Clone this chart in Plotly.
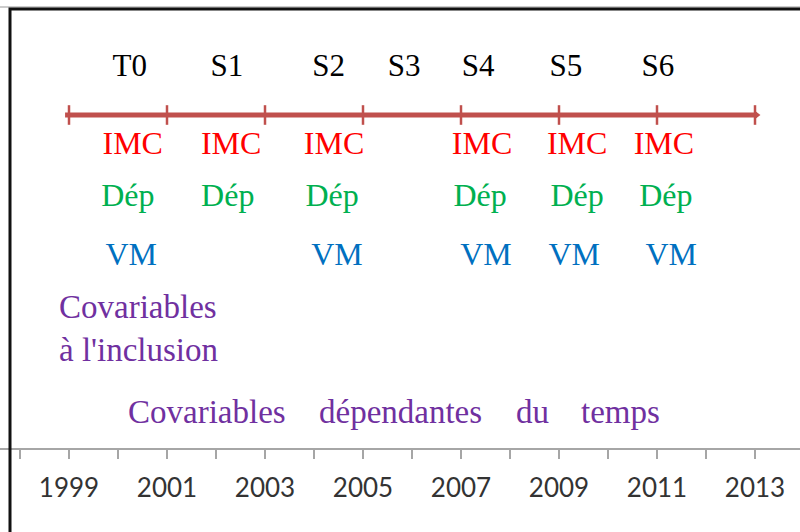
import plotly.graph_objects as go

# ---- data (years) ----
waves = ["T0", "S1", "S2", "S3", "S4", "S5", "S6"]
wave_years = [2000.24, 2002.22, 2004.30, 2005.84, 2007.35, 2009.14, 2011.02]

imc_years = [2000.30, 2002.31, 2004.41, 2007.43, 2009.37, 2011.14]
dep_years = [2000.20, 2002.24, 2004.37, 2007.39, 2009.37, 2011.18]
vm_years = [2000.27, 2004.47, 2007.51, 2009.31, 2011.29]

timeline_start, timeline_end = 1998.92, 2013.04
timeline_ticks = [1999, 2001, 2003, 2005, 2007, 2009, 2011, 2013]
axis_label_years = [1999, 2001, 2003, 2005, 2007, 2009, 2011, 2013]

# ---- layout constants (pixel rows, y axis is in pixels from top) ----
PLOT_H = 448
Y_WAVE, Y_LINE, Y_IMC, Y_DEP, Y_VM = 68, 115, 146, 198, 257
RED = "#C0504D"
SERIF = "Liberation Serif, Times New Roman, serif"

fig = go.Figure()

# timeline
fig.add_trace(go.Scatter(x=[timeline_start, timeline_end], y=[Y_LINE, Y_LINE], mode="lines",
                         line=dict(color=RED, width=5), hoverinfo="skip"))
fig.add_trace(go.Scatter(x=timeline_ticks, y=[Y_LINE] * len(timeline_ticks), mode="markers",
                         marker=dict(symbol="line-ns", size=14, line=dict(color=RED, width=2.5)),
                         hoverinfo="skip"))
fig.add_trace(go.Scatter(x=[timeline_end], y=[Y_LINE], mode="markers",
                         marker=dict(symbol="triangle-right", size=7, color=RED), hoverinfo="skip"))

# wave labels
fig.add_trace(go.Scatter(x=wave_years, y=[Y_WAVE] * len(waves), mode="text", text=waves,
                         textfont=dict(family=SERIF, size=31, color="black"), hoverinfo="skip"))
# rows
fig.add_trace(go.Scatter(x=imc_years, y=[Y_IMC] * len(imc_years), mode="text", text=["IMC"] * len(imc_years),
                         textfont=dict(family=SERIF, size=32, color="#FF0000"), hoverinfo="skip"))
fig.add_trace(go.Scatter(x=dep_years, y=[Y_DEP] * len(dep_years), mode="text", text=["Dép"] * len(dep_years),
                         textfont=dict(family=SERIF, size=32, color="#00B050"), hoverinfo="skip"))
fig.add_trace(go.Scatter(x=vm_years, y=[Y_VM] * len(vm_years), mode="text", text=["VM"] * len(vm_years),
                         textfont=dict(family=SERIF, size=32, color="#0070C0"), hoverinfo="skip"))

PURPLE = "#7030A0"
fig.add_annotation(x=1998.755, y=328, xref="x", yref="y", text="Covariables<br>à l'inclusion",
                   showarrow=False, xanchor="left", yanchor="middle", align="left",
                   font=dict(family=SERIF, size=33, color=PURPLE))
for word, cx in [("Covariables", 207), ("dépendantes", 400), ("du", 532), ("temps", 620)]:
    fig.add_annotation(x=1998 + (cx - 20) / 49, y=412, xref="x", yref="y", text=word,
                       showarrow=False, xanchor="center", yanchor="middle",
                       font=dict(family=SERIF, size=33, color=PURPLE))

# frame border (extends beyond right and bottom edges)
top = 1 - 9 / PLOT_H
fig.add_shape(type="line", xref="paper", yref="paper", x0=0, x1=1, y0=1 - 7 / PLOT_H, y1=1 - 7 / PLOT_H,
              line=dict(color="#BBBBBB", width=1.5))
fig.add_shape(type="path", xref="paper", yref="paper",
              path=f"M {10/800} {-0.2} L {10/800} {top} L 1.01 {top}",
              line=dict(color="#111111", width=3))

x0 = 1998 - 20 / 49
x1 = 1998 + 780 / 49
fig.update_xaxes(range=[x0, x1], showgrid=False, zeroline=False,
                 showline=True, linecolor="#A6A6A6", linewidth=2,
                 tickmode="array", tickvals=axis_label_years, ticktext=[str(y) for y in axis_label_years],
                 ticks="outside", ticklen=9, tickwidth=1.5, tickcolor="#A6A6A6",
                 ticklabelstandoff=7,
                 minor=dict(tick0=1998, dtick=1, ticks="outside", ticklen=9, tickwidth=1.5, tickcolor="#A6A6A6"),
                 tickfont=dict(family="Lato, Carlito, Liberation Sans, sans-serif", size=26, color="#333333"))
fig.update_yaxes(range=[PLOT_H, 0], visible=False, showgrid=False, zeroline=False)

fig.update_layout(width=800, height=532, margin=dict(l=0, r=0, t=0, b=532 - PLOT_H),
                  paper_bgcolor="white", plot_bgcolor="white", showlegend=False)

fig.write_html("out.html", config={"displayModeBar": False},
               post_script="document.body.style.margin='0';document.body.style.overflow='hidden';")
